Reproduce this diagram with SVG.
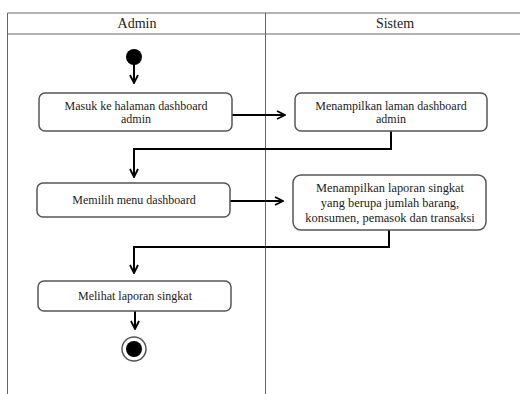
<svg xmlns="http://www.w3.org/2000/svg" width="520" height="394" viewBox="0 0 520 394">
<defs>
<style>
.lane{fill:none;stroke:#666;stroke-width:1}
.box{fill:#fff;stroke:#555;stroke-width:1.5}
.lbl{font-family:"Liberation Serif","Times New Roman",serif;font-size:12px;fill:#222;text-anchor:middle}
.lbl2{font-family:"Liberation Serif","Times New Roman",serif;font-size:12.4px;fill:#222;text-anchor:middle}
.hdr{font-family:"Liberation Serif","Times New Roman",serif;font-size:14px;fill:#222;text-anchor:middle}
.edge{fill:none;stroke:#000;stroke-width:2;marker-end:url(#arr)}
</style>
<marker id="arr" viewBox="0 0 10 10" refX="9" refY="5" markerWidth="10" markerHeight="10" markerUnits="userSpaceOnUse" orient="auto">
<path d="M1,1 L9,5 L1,9" fill="none" stroke="#000" stroke-width="1.8"/>
</marker>
</defs>
<rect width="520" height="394" fill="#fff"/>
<g id="lanes">
<path class="lane" d="M7.5,394 V13 H520 M7.5,34 H520 M265.5,13 V394"/>
<text class="hdr" x="137" y="28">Admin</text>
<text class="hdr" x="395" y="28">Sistem</text>
</g>
<g id="connectors">
<path class="edge" d="M134,64 V83"/>
<path class="edge" d="M232,115 H285"/>
<path class="edge" d="M391,131 V149 H134 V177"/>
<path class="edge" d="M230,201 H283"/>
<path class="edge" d="M389,230 V247 H134 V273"/>
<path class="edge" d="M135,311 V329"/>
</g>
<g id="start">
<circle cx="134" cy="57" r="8" fill="#000"/>
</g>
<g id="a1">
<rect class="box" x="39" y="93" width="193" height="38" rx="6"/>
<text class="lbl" x="136" y="110">Masuk ke halaman dashboard</text>
<text class="lbl" x="136" y="123">admin</text>
</g>
<g id="s1">
<rect class="box" x="295" y="93" width="192" height="38" rx="6"/>
<text class="lbl" x="391" y="110">Menampilkan laman dashboard</text>
<text class="lbl" x="391" y="123">admin</text>
</g>
<g id="a2">
<rect class="box" x="37" y="183" width="193" height="34" rx="6"/>
<text class="lbl" x="134" y="204">Memilih menu dashboard</text>
</g>
<g id="s2">
<rect class="box" x="293" y="175" width="193" height="55" rx="8"/>
<text class="lbl2" x="390" y="192">Menampilkan laporan singkat</text>
<text class="lbl2" x="390" y="207">yang berupa jumlah barang,</text>
<text class="lbl2" x="390" y="222">konsumen, pemasok dan transaksi</text>
</g>
<g id="a3">
<rect class="box" x="38" y="281" width="193" height="30" rx="6"/>
<text class="lbl" x="135" y="300">Melihat laporan singkat</text>
</g>
<g id="end">
<circle cx="134" cy="349" r="12" fill="#fff" stroke="#555" stroke-width="1.5"/>
<circle cx="134" cy="349" r="8" fill="#000"/>
</g>
</svg>
